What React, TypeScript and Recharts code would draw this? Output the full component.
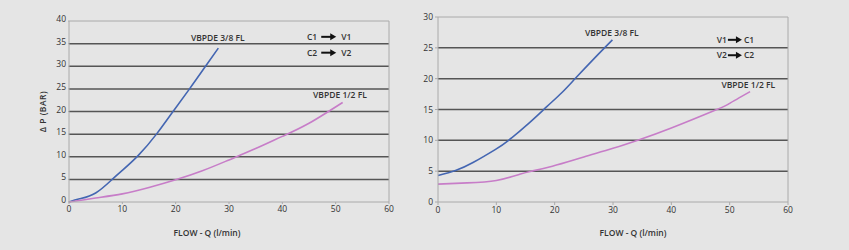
import React from 'react';
import { LineChart, Line, XAxis, YAxis, ReferenceLine, ReferenceDot } from 'recharts';

// ---- Left chart: C1 -> V1, C2 -> V2 ----
const leftFlow38 = [0, 2, 5, 8, 10, 13, 16.4, 19.5, 22.6, 25.6, 28];
const leftDp38 = [0, 0.7, 2, 4.9, 7, 10.3, 15, 20, 25, 30, 34];
const leftFlow12 = [0, 5, 10, 15, 20, 25, 30, 35, 40, 45, 51.3];
const leftDp12 = [0, 0.9, 1.8, 3.2, 4.9, 6.9, 9.3, 11.8, 14.5, 17.4, 22];
const leftYTicks = [0, 5, 10, 15, 20, 25, 30, 35, 40];

// ---- Right chart: V1 -> C1, V2 -> C2 ----
const rightFlow38 = [0, 3, 6, 9.8, 12.1, 15.6, 18.7, 21.3, 23.6, 27, 29.9];
const rightDp38 = [4.3, 5.1, 6.4, 8.5, 10, 12.8, 15.5, 17.8, 20.1, 23.5, 26.3];
const rightFlow12 = [0, 5, 10, 14, 16, 19.6, 25, 30, 34.5, 40, 47.8, 50, 53.5];
const rightDp12 = [2.9, 3.1, 3.5, 4.5, 5.0, 5.8, 7.3, 8.7, 10.1, 12, 15, 16, 17.9];
const rightYTicks = [0, 5, 10, 15, 20, 25, 30];

const xTicks = [0, 10, 20, 30, 40, 50, 60];
const name38 = 'VBPDE 3/8 FL';
const name12 = 'VBPDE 1/2 FL';
const xTitle = 'FLOW - Q (l/min)';
const yTitle = 'Δ P (BAR)';
const leftDir = [['C1', 'V1'], ['C2', 'V2']];
const rightDir = [['V1', 'C1'], ['V2', 'C2']];

const build = (xs: number[], ys: number[]) => xs.map((q, i) => ({ q, dp: ys[i] }));

const FONT = "'Open Sans', 'DejaVu Sans', sans-serif";
const BLUE = '#4466b2';
const PINK = '#c77dc8';
const GRID = '#555555';
const BORDER = '#aaaaaa';
const TXT = '#333333';

const ann = (x: number, y: number, text: string) => (
  <ReferenceDot
    x={x}
    y={y}
    r={0}
    ifOverflow="visible"
    label={{ value: text, position: 'center', fontSize: 8.5, fontWeight: 600, fill: TXT, fontFamily: FONT }}
  />
);

// direction annotation "A -> B" with a heavy arrow drawn next to real text
const dirAnn = (x: number, y: number, from: string, to: string, gap: number, pad: number, key: string) => (
  <ReferenceDot
    key={key}
    x={x}
    y={y}
    r={0}
    ifOverflow="visible"
    label={{
      content: (p: any) => {
        const vb = p.viewBox || {};
        const cx = vb.x + (vb.width || 0) / 2;
        const cy = vb.y + (vb.height || 0) / 2;
        const half = gap / 2;
        return (
          <g>
            <text x={cx - half - pad} y={cy} dy="0.35em" textAnchor="end" fontSize={8.5} fontWeight={600} fill={TXT} fontFamily={FONT}>{from}</text>
            <line x1={cx - half} y1={cy} x2={cx + half - 5} y2={cy} stroke="#111" strokeWidth={2} />
            <polygon points={`${cx + half - 6},${cy - 3.5} ${cx + half},${cy} ${cx + half - 6},${cy + 3.5}`} fill="#111" />
            <text x={cx + half + pad + 1} y={cy} dy="0.35em" textAnchor="start" fontSize={8.5} fontWeight={600} fill={TXT} fontFamily={FONT}>{to}</text>
          </g>
        );
      },
    }}
  />
);

export default function App() {
  return (
    <div style={{ position: 'absolute', left: 0, top: 0, width: 849, height: 250, background: '#e5e5e5', fontFamily: FONT }}>
      <div style={{ position: 'absolute', left: 0, top: 0 }}>
        <LineChart width={420} height={250} margin={{ top: 21, right: 31, bottom: 0, left: 0 }}>
          <XAxis
            type="number"
            dataKey="q"
            domain={[0, 60]}
            ticks={xTicks}
            height={48}
            stroke={BORDER}
            tickSize={2}
            tick={{ fontSize: 8.5, fill: TXT, fontFamily: FONT }}
            label={{ value: xTitle, position: 'insideBottom', offset: 14, dx: -22, fontSize: 8.5, fontWeight: 600, fill: TXT, fontFamily: FONT }}
          />
          <YAxis
            type="number"
            domain={[0, 40]}
            ticks={leftYTicks}
            width={69}
            stroke={BORDER}
            tickSize={1}
            tick={{ fontSize: 8.5, fill: TXT, fontFamily: FONT, dy: -2 }}
            label={{ value: yTitle, angle: -90, position: 'center', dx: 8, fontSize: 8.5, fontWeight: 600, letterSpacing: 0.5, fill: TXT, fontFamily: FONT }}
          />
          {leftYTicks.slice(1, -1).map((v) => (
            <ReferenceLine key={v} y={v} stroke={GRID} strokeWidth={1.5} />
          ))}
          <ReferenceLine y={40} stroke={BORDER} strokeWidth={1} />
          <ReferenceLine x={60} stroke={BORDER} strokeWidth={1} />
          <Line data={build(leftFlow38, leftDp38)} dataKey="dp" type="natural" stroke={BLUE} strokeWidth={1.6} dot={false} isAnimationActive={false} />
          <Line data={build(leftFlow12, leftDp12)} dataKey="dp" type="natural" stroke={PINK} strokeWidth={1.6} dot={false} isAnimationActive={false} />
          {ann(27.9, 36.3, name38)}
          {ann(50.8, 23.6, name12)}
          {dirAnn(48.7, 36.5, leftDir[0][0], leftDir[0][1], 15, 4, 'l1')}
          {dirAnn(48.7, 33.0, leftDir[1][0], leftDir[1][1], 15, 4, 'l2')}
        </LineChart>
      </div>
      <div style={{ position: 'absolute', left: 420, top: 0 }}>
        <LineChart width={429} height={250} margin={{ top: 17, right: 61, bottom: 0, left: 0 }}>
          <XAxis
            type="number"
            dataKey="q"
            domain={[0, 60]}
            ticks={xTicks}
            height={48}
            stroke={BORDER}
            tickSize={3}
            tick={{ fontSize: 8.5, fill: TXT, fontFamily: FONT }}
            label={{ value: xTitle, position: 'insideBottom', offset: 14, dx: 20, fontSize: 8.5, fontWeight: 600, fill: TXT, fontFamily: FONT }}
          />
          <YAxis
            type="number"
            domain={[0, 30]}
            ticks={rightYTicks}
            width={18}
            stroke={BORDER}
            tickSize={3}
            tick={{ fontSize: 8.5, fill: TXT, fontFamily: FONT }}
          />
          {rightYTicks.slice(1, -1).map((v) => (
            <ReferenceLine key={v} y={v} stroke={GRID} strokeWidth={1.5} />
          ))}
          <ReferenceLine y={30} stroke={BORDER} strokeWidth={1} />
          <ReferenceLine x={60} stroke={BORDER} strokeWidth={1} />
          <Line data={build(rightFlow38, rightDp38)} dataKey="dp" type="natural" stroke={BLUE} strokeWidth={1.6} dot={false} isAnimationActive={false} />
          <Line data={build(rightFlow12, rightDp12)} dataKey="dp" type="natural" stroke={PINK} strokeWidth={1.6} dot={false} isAnimationActive={false} />
          {ann(29.8, 27.4, name38)}
          {ann(53.2, 18.9, name12)}
          {dirAnn(50.9, 26.3, rightDir[0][0], rightDir[0][1], 14, 1, 'r1')}
          {dirAnn(50.9, 23.8, rightDir[1][0], rightDir[1][1], 14, 1, 'r2')}
        </LineChart>
      </div>
    </div>
  );
}
